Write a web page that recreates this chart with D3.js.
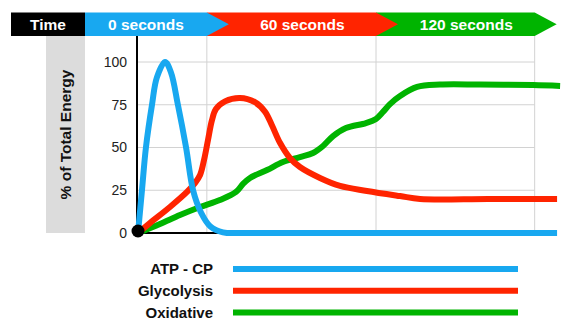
<!DOCTYPE html>
<html>
<head>
<meta charset="utf-8">
<script src="https://cdn.jsdelivr.net/npm/d3@7"></script>
<style>
  body { margin: 0; background: #fff; }
  svg { display: block; font-family: "Liberation Sans", Arial, sans-serif; }
</style>
</head>
<body>
<svg width="570" height="330"></svg>
<script>
// Energy system contribution over time (seconds, % of total energy)
var atpTime = [0, 1.7, 3.4, 6, 8.1, 11.6, 14.1, 17.1, 20.6, 23.6, 27, 30.9, 36.4, 45, 80, 120, 150, 179.6];
var atpValue = [0, 25, 50, 75, 91, 100, 94, 75, 50, 25, 12, 4, 0.4, 0, 0, 0, 0, 0];

var glyTime = [0, 5.1, 13.7, 21, 24.4, 26.6, 28.3, 30, 31.7, 33.4, 37.3, 43.7, 50.1, 54.4, 57.4, 60.9, 65.1, 69.4, 78, 86.6, 98.1, 112.3, 120.9, 150, 179.6];
var glyValue = [0, 5.8, 15.2, 24, 29.2, 33.9, 42.7, 54.4, 66, 72.5, 77, 79, 76.5, 71, 63, 52.6, 43.9, 38.6, 32.2, 27.5, 24.6, 21.6, 19.9, 19.9, 19.9];

var oxiTime = [0, 9.4, 18, 26.6, 35.1, 42, 45, 48, 55.3, 62.1, 69.4, 75, 79.3, 83.6, 89.1, 97.7, 102, 105, 108, 112.3, 119.6, 129.4, 146.6, 169.3, 180.9];
var oxiValue = [0, 5.3, 10.5, 15.2, 19.3, 24, 28.7, 32.2, 36.8, 41.5, 44.4, 46.8, 50.9, 56.7, 61.4, 64.3, 66.7, 70.8, 75.4, 80.1, 85.4, 86.8, 86.8, 86.5, 86];

var yTicks = [0, 25, 50, 75, 100];
var gridTimes = [29.5, 102, 170];
var phaseLabels = ["0 seconds", "60 seconds", "120 seconds"];

var series = [
	{ name: "ATP - CP", color: "#18a8f0", t: atpTime, v: atpValue },
	{ name: "Glycolysis", color: "#ff2400", t: glyTime, v: glyValue },
	{ name: "Oxidative", color: "#00b400", t: oxiTime, v: oxiValue }
];

var svg = d3.select("svg");

var x = d3.scaleLinear().domain([0, 180]).range([138, 558]);
var y = d3.scaleLinear().domain([0, 100]).range([233, 62]);

var plotTop = 36, gridRight = x(gridTimes[gridTimes.length - 1]);

// Grey band behind the y axis title
svg.append("rect")
	.attr("x", 46).attr("y", plotTop)
	.attr("width", 39).attr("height", y(0) - plotTop)
	.attr("fill", "#dcdcdc");

svg.append("text")
	.attr("transform", "translate(66," + ((plotTop + y(0)) / 2) + ") rotate(-90)")
	.attr("text-anchor", "middle")
	.attr("dy", "0.35em")
	.style("font-weight", "bold")
	.style("font-size", "15.5px")
	.attr("fill", "#111")
	.text("% of Total Energy");

// Grid
svg.append("g").selectAll("line")
	.data(yTicks.slice(1))
	.enter().append("line")
	.attr("x1", x(0)).attr("x2", gridRight)
	.attr("y1", (d) => y(d)).attr("y2", (d) => y(d))
	.attr("stroke", "#d2d2d2").attr("stroke-width", 1);

svg.append("g").selectAll("line")
	.data(gridTimes)
	.enter().append("line")
	.attr("x1", (d) => x(d)).attr("x2", (d) => x(d))
	.attr("y1", plotTop).attr("y2", y(0))
	.attr("stroke", "#d2d2d2").attr("stroke-width", 1);

// Y axis labels
var yAxis = svg.append("g")
	.attr("transform", "translate(127,0)")
	.call(d3.axisLeft(y).tickValues(yTicks).tickSize(0).tickPadding(0));
yAxis.select(".domain").remove();
yAxis.selectAll("text")
	.style("font-size", "14px")
	.style("font-family", "'Liberation Sans', Arial, sans-serif")
	.attr("fill", "#222");

// Axes lines
svg.append("line")
	.attr("x1", x(0) - 1).attr("x2", x(0) - 1)
	.attr("y1", plotTop).attr("y2", y(0))
	.attr("stroke", "#000").attr("stroke-width", 2);
svg.append("line")
	.attr("x1", x(0) - 1).attr("x2", gridRight)
	.attr("y1", y(0)).attr("y2", y(0))
	.attr("stroke", "#000").attr("stroke-width", 2);

// Curves
var line = d3.line()
	.x((d) => x(d[0]))
	.y((d) => y(d[1]))
	.curve(d3.curveCatmullRom.alpha(0.5));

svg.append("g").selectAll("path")
	.data(series.slice().reverse())
	.enter().append("path")
	.attr("d", (s) => line(s.t.map((t, i) => [t, s.v[i]])))
	.attr("fill", "none")
	.attr("stroke", (s) => s.color)
	.attr("stroke-width", 6)
	.attr("stroke-linejoin", "round");

svg.append("circle")
	.attr("cx", x(0)).attr("cy", y(0) - 2)
	.attr("r", 6.5)
	.attr("fill", "#000");

// Header: time phases as arrows
var hTop = 12.5, hBot = 36, hMid = (hTop + hBot) / 2, tip = 22;
var bounds = [85].concat(gridTimes.map((d) => x(d)));
var phaseColors = series.map((s) => s.color);

// draw right to left so each arrow tip overlaps the next segment
for (var i = phaseLabels.length - 1; i >= 0; i--) {
	var x0 = bounds[i], x1 = bounds[i + 1];
	svg.append("path")
		.attr("d", "M" + x0 + "," + hTop + "L" + x1 + "," + hTop + "L" + (x1 + tip) + "," + hMid +
			"L" + x1 + "," + hBot + "L" + x0 + "," + hBot + "Z")
		.attr("fill", phaseColors[i]);
}

svg.append("rect")
	.attr("x", 11).attr("y", hTop)
	.attr("width", 74).attr("height", hBot - hTop)
	.attr("fill", "#000");

var headText = [{ label: "Time", cx: 48 }].concat(phaseLabels.map((d, i) => ({
	label: d,
	cx: ((i > 0 ? bounds[i] + tip : bounds[i]) + bounds[i + 1]) / 2
})));

svg.append("g").selectAll("text")
	.data(headText)
	.enter().append("text")
	.attr("x", (d) => d.cx)
	.attr("y", hMid)
	.attr("dy", "0.36em")
	.attr("text-anchor", "middle")
	.attr("fill", "#fff")
	.style("font-weight", "bold")
	.style("font-size", "15.5px")
	.text((d) => d.label);

// Legend
var legend = svg.append("g").selectAll("g")
	.data(series)
	.enter().append("g")
	.attr("transform", (d, i) => "translate(0," + (269 + i * 21.7) + ")");

legend.append("text")
	.attr("x", 213)
	.attr("dy", "0.36em")
	.attr("text-anchor", "end")
	.attr("fill", "#111")
	.style("font-weight", "bold")
	.style("font-size", "15px")
	.text((d) => d.name);

legend.append("line")
	.attr("x1", 233).attr("x2", 518)
	.attr("stroke", (d) => d.color)
	.attr("stroke-width", 6);
</script>
</body>
</html>
